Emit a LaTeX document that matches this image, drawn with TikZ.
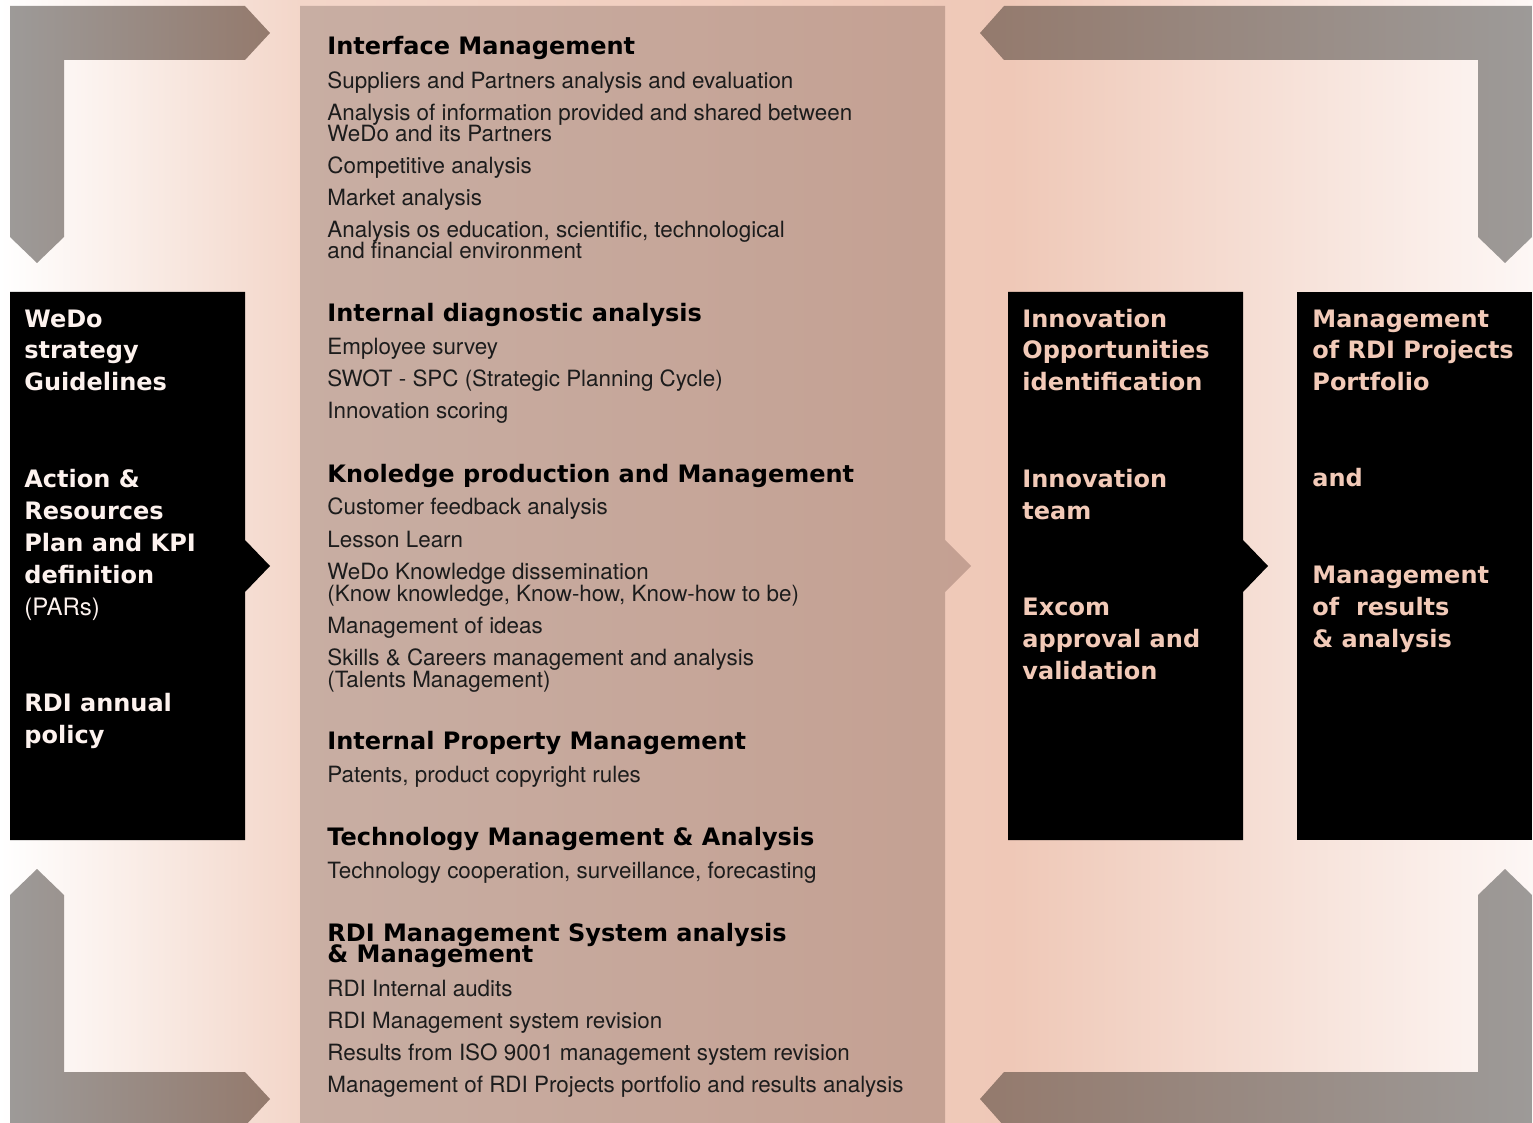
\documentclass[tikz,border=0pt]{standalone}
\usepackage{fontspec}
\setmainfont{TeX Gyre Heros}[BoldFont={DejaVu Sans Bold}]
\usetikzlibrary{positioning}

\definecolor{arrgray}{RGB}{157,154,152}
\definecolor{arrbrown}{RGB}{148,122,109}
\definecolor{panelL}{RGB}{200,174,163}
\definecolor{panelR}{RGB}{196,160,146}
\definecolor{peachL}{RGB}{243,214,201}
\definecolor{peachM}{RGB}{239,200,183}
\definecolor{peachE}{RGB}{253,247,245}
\definecolor{bodytext}{RGB}{28,28,28}
\definecolor{pinkwhite}{RGB}{253,242,238}
\definecolor{peachtext}{RGB}{242,202,184}

\tikzset{
  head/.style={anchor=base west, inner sep=0pt, font=\fontsize{12}{10.5}\selectfont\bfseries},
  item/.style={anchor=base west, inner sep=0pt, text=bodytext, font=\fontsize{11.2}{10.5}\selectfont},
  % multi-line: base sits on the last line
  boxtext/.style={anchor=base west, inner sep=0pt, align=left, font=\fontsize{12}{16}\selectfont\bfseries},
  flowarrow/.style={left color=arrgray, right color=arrbrown},
  backarrow/.style={left color=arrbrown, right color=arrgray}
}

\begin{document}
\begin{tikzpicture}[x=0.5pt,y=-0.5pt]
\useasboundingbox (0,0) rectangle (1533,1123);
\clip (0,0) rectangle (1533,1123);

% background
\shade[left color=white, right color=peachL] (0,0) rectangle (300,1123);
\shade[left color=peachL, right color=peachM] (300,0) rectangle (1010,1123);
\shade[left color=peachM, right color=peachE] (1010,0) rectangle (1533,1123);

% middle panel
\shade[left color=panelL, right color=panelR] (300,6) -- (945,6) -- (945,540) -- (971,566) -- (945,592) -- (945,1130) -- (300,1130) -- cycle;

% corner arrows
\shade[flowarrow] (10,6) -- (245,6) -- (270,33) -- (245,60) -- (64,60) -- (64,237) -- (37,263) -- (10,237) -- cycle;
\shade[backarrow] (1532,6) -- (1004,6) -- (980,33) -- (1004,60) -- (1478,60) -- (1478,237) -- (1505,263) -- (1532,237) -- cycle;
\shade[flowarrow] (10,1126) -- (245,1126) -- (270,1099) -- (245,1072) -- (64,1072) -- (64,895) -- (37,869) -- (10,895) -- cycle;
\shade[backarrow] (1532,1126) -- (1004,1126) -- (980,1099) -- (1004,1072) -- (1478,1072) -- (1478,895) -- (1505,869) -- (1532,895) -- cycle;

% black boxes
\fill[black] (10,292) -- (245,292) -- (245,540) -- (270,566) -- (245,592) -- (245,840) -- (10,840) -- cycle;
\fill[black] (1008,292) -- (1243,292) -- (1243,540) -- (1268,566) -- (1243,592) -- (1243,840) -- (1008,840) -- cycle;
\fill[black] (1297,292) rectangle (1532,840);

% left box
\node[boxtext, text=pinkwhite] (strat) at (24,391) {WeDo\\strategy\\Guidelines};
\node[boxtext, text=pinkwhite] (plan) at (24,615) {Action \&\\Resources\\Plan and KPI\\definition\\\mdseries(PARs)};
\node[boxtext, text=pinkwhite] (policy) at (24,743) {RDI annual\\policy};

% right boxes
\node[boxtext, text=peachtext] (opp) at (1022,391) {Innovation\\Opportunities\\identification};
\node[boxtext, text=peachtext] (team) at (1022,519) {Innovation\\team};
\node[boxtext, text=peachtext] (excom) at (1022,679) {Excom\\approval and\\validation};
\node[boxtext, text=peachtext] (portf) at (1312,391) {Management\\of RDI Projects\\Portfolio};
\node[boxtext, text=peachtext] (and) at (1312,487) {and};
\node[boxtext, text=peachtext] (results) at (1312,647) {Management\\of\ \ results\\\& analysis};

% middle panel texts
\node[head] (iface) at (327,55) {Interface Management};
\node[item] (iface1) at (327,89) {Suppliers and Partners analysis and evaluation};
\node[item] (iface2) at (327,121) {Analysis of information provided and shared between};
\node[item] (iface2b) at (327,142) {WeDo and its Partners};
\node[item] (iface3) at (327,174) {Competitive analysis};
\node[item] (iface4) at (327,206) {Market analysis};
\node[item] (iface5) at (327,238) {Analysis os education, scientific, technological};
\node[item] (iface5b) at (327,259) {and financial environment};

\node[head] (diag) at (327,322) {Internal diagnostic analysis};
\node[item] (diag1) at (327,355) {Employee survey};
\node[item] (diag2) at (327,387) {SWOT - SPC (Strategic Planning Cycle)};
\node[item] (diag3) at (327,419) {Innovation scoring};

\node[head] (know) at (327,482) {Knoledge production and Management};
\node[item] (know1) at (327,515) {Customer feedback analysis};
\node[item] (know2) at (327,547) {Lesson Learn};
\node[item] (know3) at (327,579) {WeDo Knowledge dissemination};
\node[item] (know3b) at (327,601) {(Know knowledge, Know-how, Know-how to be)};
\node[item] (know4) at (327,633) {Management of ideas};
\node[item] (know5) at (327,665) {Skills \& Careers management and analysis};
\node[item] (know5b) at (327,687) {(Talents Management)};

\node[head] (ipm) at (327,749) {Internal Property Management};
\node[item] (ipm1) at (327,782) {Patents, product copyright rules};

\node[head] (tech) at (327,845) {Technology Management \& Analysis};
\node[item] (tech1) at (327,878) {Technology cooperation, surveillance, forecasting};

\node[head] (rdims) at (327,941) {RDI Management System analysis};
\node[head] (rdimsb) at (327,962) {\& Management};
\node[item] (rdims1) at (327,996) {RDI Internal audits};
\node[item] (rdims2) at (327,1028) {RDI Management system revision};
\node[item] (rdims3) at (327,1060) {Results from ISO 9001 management system revision};
\node[item] (rdims4) at (327,1092) {Management of RDI Projects portfolio and results analysis};
\end{tikzpicture}
\end{document}
